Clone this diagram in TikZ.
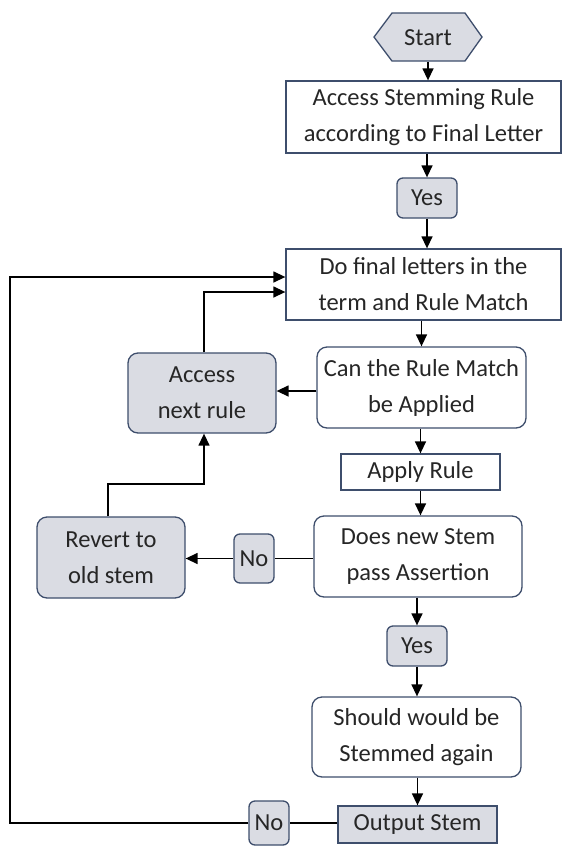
\documentclass[tikz,border=0pt]{standalone}
\usepackage{fontspec}
\setmainfont{Carlito}
\usetikzlibrary{arrows.meta}
\definecolor{bordc}{RGB}{62,78,108}
\definecolor{grayf}{RGB}{218,220,227}
\definecolor{txtc}{RGB}{38,38,38}
\tikzset{
  base/.style={draw=bordc, line width=1.3pt, inner sep=0pt, align=center, text=txtc,
    font=\fontsize{24.5}{36}\selectfont},
  sqbox/.style={base, fill=white},
  graysq/.style={base, fill=grayf},
  rbox/.style={base, fill=white, rounded corners=10pt},
  grbox/.style={base, fill=grayf, rounded corners=10pt},
  smallg/.style={base, fill=grayf, rounded corners=6pt},
  conn/.style={line width=1.4pt, draw=black},
  arr/.style={conn, -{Triangle[length=12pt,width=11pt]}}
}
\begin{document}
\begin{tikzpicture}[x=1pt,y=-1pt]
\useasboundingbox (0,0) rectangle (563,847);
% Start hexagon
\draw[draw=bordc, fill=grayf, line width=1.3pt]
  (374,37) -- (392,13) -- (465,13) -- (482,37) -- (465,61) -- (392,61) -- cycle;
\node[inner sep=0pt, minimum width=108pt, minimum height=48pt, text=txtc,
  font=\fontsize{24.5}{36}\selectfont] (start) at (428,38) {Start};

\node[sqbox, minimum width=275pt, minimum height=72pt] (acc) at (423.5,117)
  {Access Stemming Rule\\according to Final Letter};
\node[smallg, minimum width=60pt, minimum height=40pt] (yes1) at (427,198) {Yes};
\node[sqbox, minimum width=275pt, minimum height=71pt] (dofinal) at (423.5,284.5)
  {Do final letters in the\\term and Rule Match};
\node[rbox, minimum width=209pt, minimum height=81pt] (can) at (421.5,387.5)
  {Can the Rule Match\\be Applied};
\node[grbox, minimum width=148pt, minimum height=80pt] (next) at (202,393)
  {Access\\next rule};
\node[sqbox, minimum width=159pt, minimum height=36pt] (apply) at (420.5,472) {Apply Rule};
\node[rbox, minimum width=208pt, minimum height=81pt] (does) at (418,556.5)
  {Does new Stem\\pass Assertion};
\node[smallg, minimum width=40pt, minimum height=49pt] (no1) at (254,558.5) {No};
\node[grbox, minimum width=148pt, minimum height=81pt] (revert) at (111,557.5)
  {Revert to\\old stem};
\node[smallg, minimum width=60pt, minimum height=40pt] (yes2) at (417,646) {Yes};
\node[rbox, minimum width=209pt, minimum height=80pt] (should) at (416.5,737)
  {Should would be\\Stemmed again};
\node[graysq, minimum width=159pt, minimum height=37pt] (output) at (417.5,824.5) {Output Stem};
\node[smallg, minimum width=40pt, minimum height=44pt] (no2) at (269,823) {No};

\coordinate (bend1) at (204,484);
\coordinate (farleft) at (10,823);

% vertical flow
\draw[arr] (start.south) -- (start.south |- acc.north);
\draw[arr] (yes1.north |- acc.south) -- (yes1.north);
\draw[arr] (yes1.south) -- (yes1.south |- dofinal.north);
\draw[arr] (can.north |- dofinal.south) -- (can.north);
\draw[arr] (apply.north |- can.south) -- (apply.north);
\draw[arr] (apply.south) -- (apply.south |- does.north);
\draw[arr] (yes2.north |- does.south) -- (yes2.north);
\draw[arr] (yes2.south) -- (yes2.south |- should.north);
\draw[arr] (output.north |- should.south) -- (output.north);
% side flows
\draw[arr] ([yshift=-3.5pt]can.west) -- ([yshift=-3.5pt]can.west -| next.east);
\draw[arr] (next.north -| bend1) |- ([yshift=-7.5pt]dofinal.west);
\draw[conn] (does.west |- no1.east) -- (no1.east);
\draw[arr] (no1.west) -- (no1.west -| revert.east);
\draw[arr] (revert.north -| 108,0) |- (bend1) -- (bend1 |- next.south);
\draw[conn] (output.west |- no2.east) -- (no2.east);
\draw[arr] (no2.west) -- (farleft) |- ([yshift=7.5pt]dofinal.west);
\end{tikzpicture}
\end{document}
